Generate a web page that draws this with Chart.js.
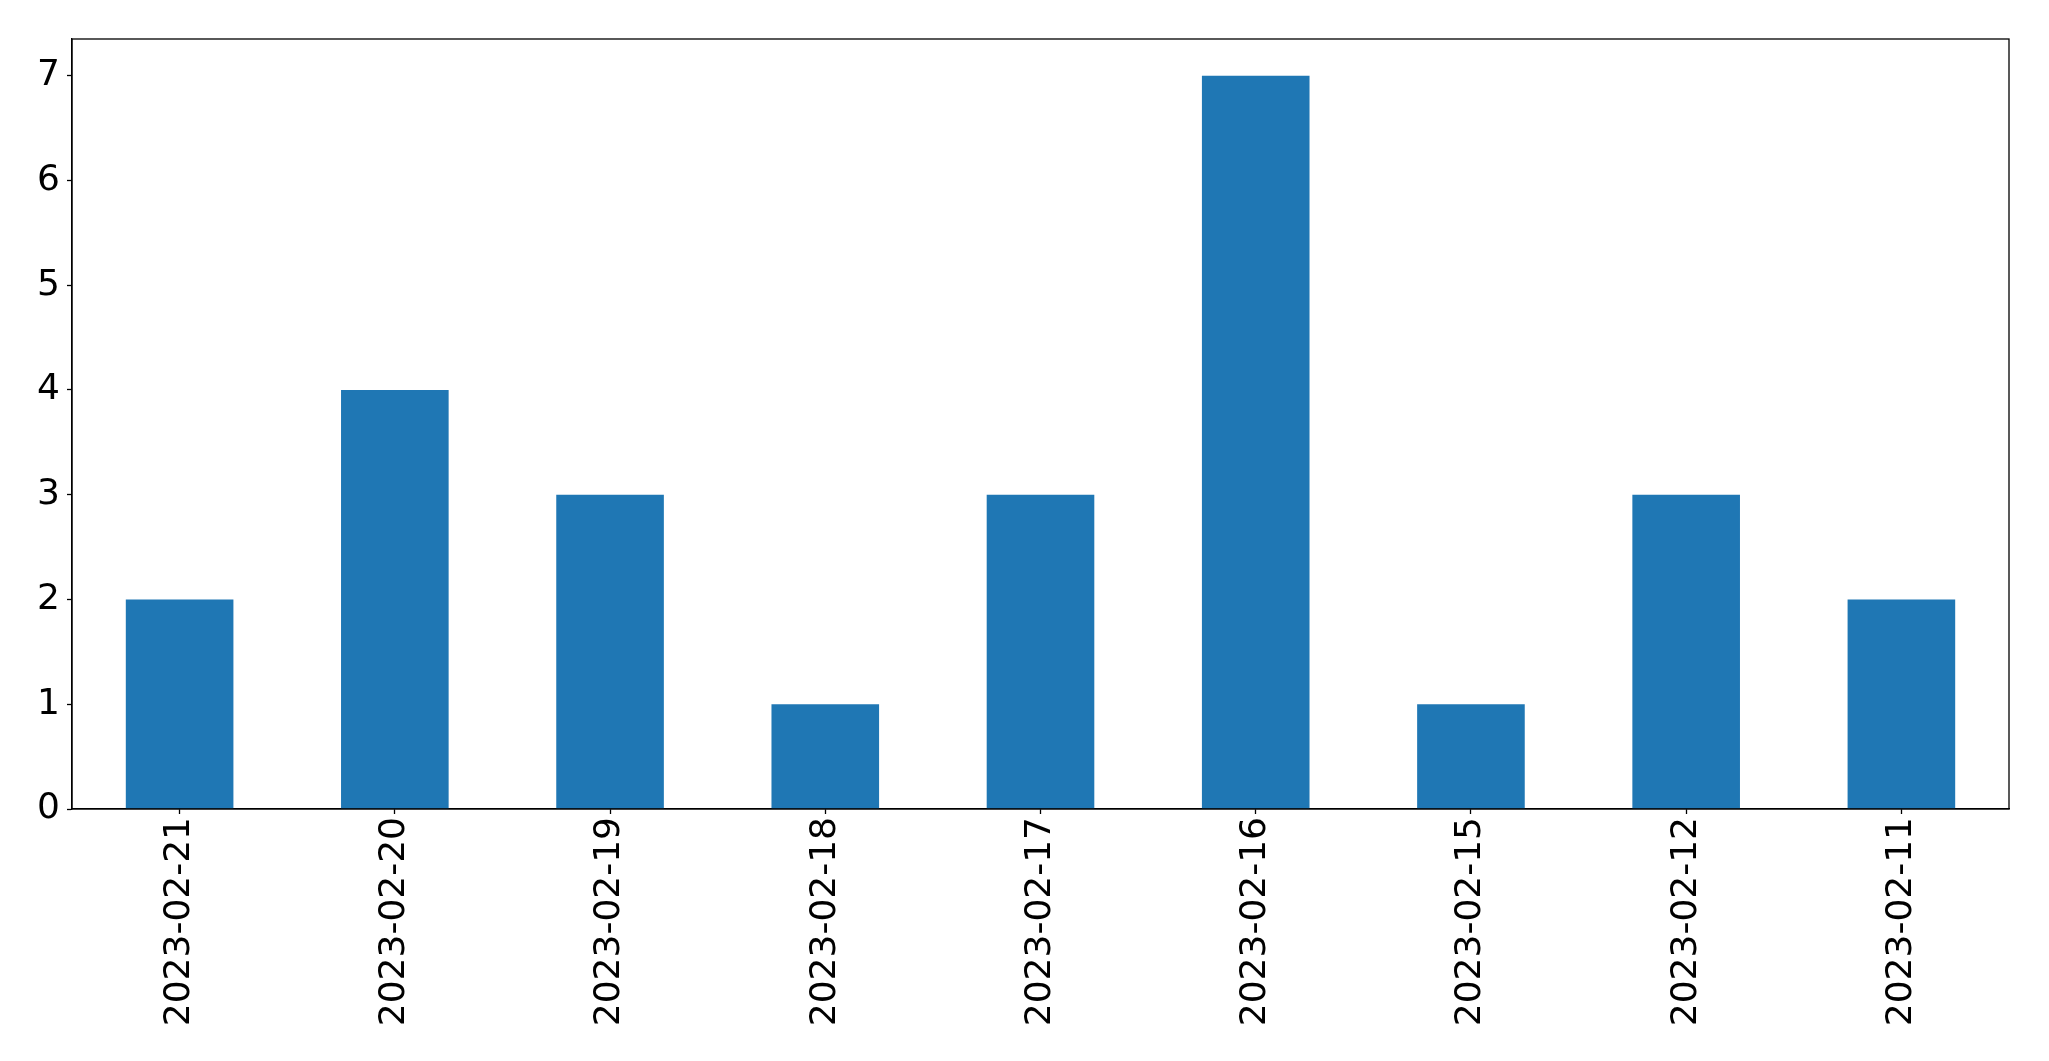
<!DOCTYPE html>
<html>
<head>
<meta charset="utf-8">
<script src="https://cdn.jsdelivr.net/npm/chart.js@4/dist/chart.umd.min.js"></script>
<style>
html,body{margin:0;padding:0;background:#fff;}
#wrap{width:2049px;height:1061px;position:relative;}
</style>
</head>
<body>
<div id="wrap"><canvas id="c" width="2049" height="1061"></canvas></div>
<script>
const categories = ["2023-02-21","2023-02-20","2023-02-19","2023-02-18","2023-02-17","2023-02-16","2023-02-15","2023-02-12","2023-02-11"];
const counts = [2,4,3,1,3,7,1,3,2];
const yTicks = [0,1,2,3,4,5,6,7];

const frame = {
  id: 'frame',
  afterDraw(chart) {
    const a = chart.chartArea, ctx = chart.ctx;
    ctx.save();
    ctx.strokeStyle = '#000';
    ctx.lineWidth = 1.3;
    ctx.strokeRect(a.left, a.top, a.right - a.left, a.bottom - a.top);
    ctx.restore();
  }
};

new Chart(document.getElementById('c'), {
  type: 'bar',
  data: {
    labels: categories,
    datasets: [{
      data: counts,
      backgroundColor: '#1f77b4',
      borderWidth: 0,
      categoryPercentage: 1.0,
      barPercentage: 0.5
    }]
  },
  options: {
    responsive: false,
    animation: false,
    devicePixelRatio: 1,
    layout: { padding: { top: 39, right: 40, left: 0, bottom: 0 } },
    plugins: { legend: { display: false }, tooltip: { enabled: false } },
    scales: {
      x: {
        offset: true,
        grid: { display: true, offset: false, drawOnChartArea: false, drawTicks: true, tickLength: 5, tickColor: '#000', tickWidth: 1.3 },
        border: { display: true, color: '#000', width: 1.3 },
        ticks: { color: '#000', font: { family: 'DejaVu Sans', size: 36 }, minRotation: 90, maxRotation: 90, padding: 3, autoSkip: false },
        afterFit(s) { s.height = 252; }
      },
      y: {
        min: 0, max: 7.35,
        afterBuildTicks(s) { s.ticks = yTicks.map(v => ({ value: v })); },
        grid: { display: true, drawOnChartArea: false, drawTicks: true, tickLength: 5, tickColor: '#000', tickWidth: 1.3 },
        border: { display: true, color: '#000', width: 1.3 },
        ticks: { color: '#000', font: { family: 'DejaVu Sans', size: 36 }, padding: 7 },
        afterFit(s) { s.width = 72; }
      }
    }
  },
  plugins: [frame]
});
</script>
</body>
</html>
